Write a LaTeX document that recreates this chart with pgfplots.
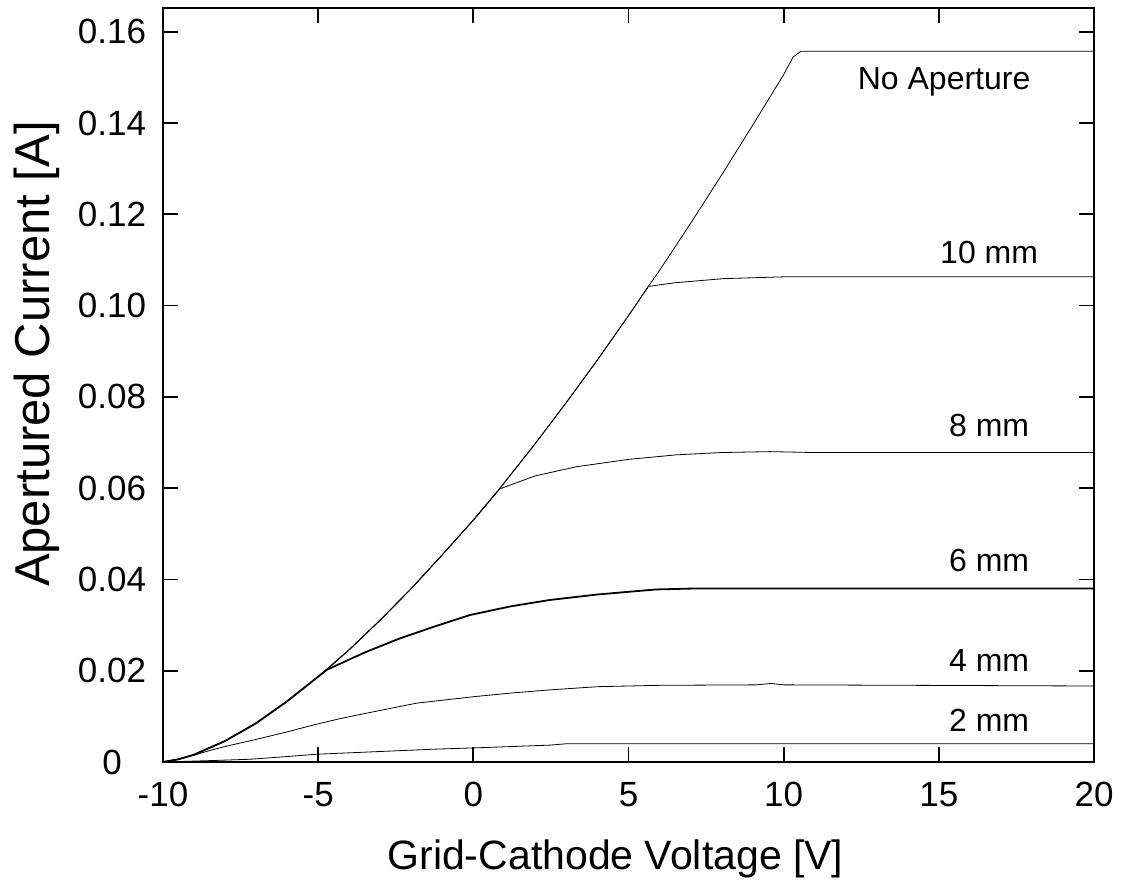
\documentclass[border=0pt]{standalone}
\usepackage{fontspec}
\setmainfont{Liberation Sans}
\usepackage{pgfplots}
\pgfplotsset{compat=1.18}

% Beam current through apertures of several diameters
\pgfplotstableread{
V I
-10 0
-9.5 0.0006
-9 0.0016
-8 0.0046
-7 0.0085
-6 0.0133
-5 0.0187
-4.72 0.0202
-4 0.0246
-3 0.0311
-2 0.0380
-1 0.0454
0 0.0530
0.84 0.0598
1 0.0612
2 0.0698
3 0.0788
4 0.0881
5 0.0978
5.64 0.1042
6 0.1077
7 0.1180
8 0.1286
9 0.1395
10 0.1506
10.3 0.1544
10.55 0.1557
20 0.1557
}\noaperture

\pgfplotstableread{
V I
-10 0
-9.5 0.0006
-9 0.0016
-8 0.0046
-7 0.0085
-6 0.0133
-5 0.0187
-4 0.0246
-3 0.0311
-2 0.0380
-1 0.0454
0 0.0530
0.84 0.0598
1 0.0612
2 0.0698
3 0.0788
4 0.0881
5 0.0978
5.64 0.1042
6.5 0.1050
8.05 0.1059
10 0.1063
20 0.1063
}\tenmm

\pgfplotstableread{
V I
-10 0
-9.5 0.0006
-9 0.0016
-8 0.0046
-7 0.0085
-6 0.0133
-5 0.0187
-4 0.0246
-3 0.0311
-2 0.0380
-1 0.0454
0 0.0530
0.84 0.0598
2 0.0627
3.33 0.0647
5 0.0663
6.55 0.0673
8 0.0678
9.56 0.0680
11 0.0678
20 0.0678
}\eightmm

\pgfplotstableread{
V I
-10 0
-9.5 0.0006
-9 0.0016
-8 0.0046
-7 0.0085
-6 0.0133
-5 0.0187
-4.72 0.0202
-3.5 0.0240
-2.36 0.0271
-1.2 0.0298
-0.11 0.0322
1.2 0.0341
2.47 0.0355
4 0.0367
5.88 0.0378
7.05 0.0380
20 0.0380
}\sixmm

\pgfplotstableread{
V I
-10 0
-9.5 0.0006
-9 0.0015
-8.5 0.0025
-8 0.0034
-7.03 0.0049
-6.0 0.0066
-5.16 0.0081
-4.3 0.0095
-3.44 0.0107
-1.82 0.0129
0 0.0143
1.2 0.0151
2.47 0.0158
4.0 0.0165
6 0.0168
9.1 0.0169
9.6 0.0172
10 0.0169
20 0.01665
}\fourmm

\pgfplotstableread{
V I
-10 0
-8.5 0.0003
-7.2 0.0006
-6 0.0012
-5.05 0.0017
-3 0.0023
-1.29 0.0028
0.5 0.0032
2.47 0.0037
3.0 0.0040
20 0.0040
}\twomm

\begin{document}
\begin{tikzpicture}
\begin{axis}[
  at={(0,0)}, anchor=south west,
  scale only axis,
  width=465.5pt, height=377pt,
  xmin=-10, xmax=20, ymin=0, ymax=0.1652,
  xtick={-10,-5,0,5,10,15,20},
  xticklabels={-10,-5,0,5,10,15,20},
  ytick={0,0.02,0.04,0.06,0.08,0.10,0.12,0.14,0.16},
  yticklabels={0,0.02,0.04,0.06,0.08,0.10,0.12,0.14,0.16},
  tick align=inside,
  major tick length=7.5pt,
  axis line style={line width=1.2pt},
  tick style={line width=0.9pt, black},
  ticklabel style={font=\fontsize{17.5}{20}\selectfont},
  xticklabel style={yshift=-6.5pt},
  yticklabel style={anchor=center, xshift=-25.5pt},
  xlabel={Grid-Cathode Voltage [V]},
  ylabel={Apertured Current [A]},
  xlabel style={font=\fontsize{20.5}{24}\selectfont, at={(axis description cs:0.486,0)}, anchor=base, yshift=-54pt},
  ylabel style={font=\fontsize{24.5}{28}\selectfont, at={(axis description cs:0,0.541)}, anchor=base, yshift=56.5pt},
  cycle list={{black, solid, mark=none, line width=0.9pt}},
  clip=false,
]
\addplot table[x=V, y=I] {\noaperture};
\addplot table[x=V, y=I] {\tenmm};
\addplot table[x=V, y=I] {\eightmm};
\addplot table[x=V, y=I] {\sixmm};
\addplot table[x=V, y=I] {\fourmm};
\addplot table[x=V, y=I] {\twomm};

\node[anchor=base, font=\fontsize{16}{19}\selectfont] at (axis cs:15.17,0.1474) {No Aperture};
\node[anchor=base, font=\fontsize{16}{19}\selectfont] at (axis cs:16.62,0.1092) {10 mm};
\node[anchor=base, font=\fontsize{16}{19}\selectfont] at (axis cs:16.62,0.0714) {8 mm};
\node[anchor=base, font=\fontsize{16}{19}\selectfont] at (axis cs:16.62,0.0417) {6 mm};
\node[anchor=base, font=\fontsize{16}{19}\selectfont] at (axis cs:16.62,0.0198) {4 mm};
\node[anchor=base, font=\fontsize{16}{19}\selectfont] at (axis cs:16.62,0.00664) {2 mm};
\end{axis}
\path (-81.5pt,-59pt) rectangle (480pt,381pt);
\end{tikzpicture}
\end{document}
